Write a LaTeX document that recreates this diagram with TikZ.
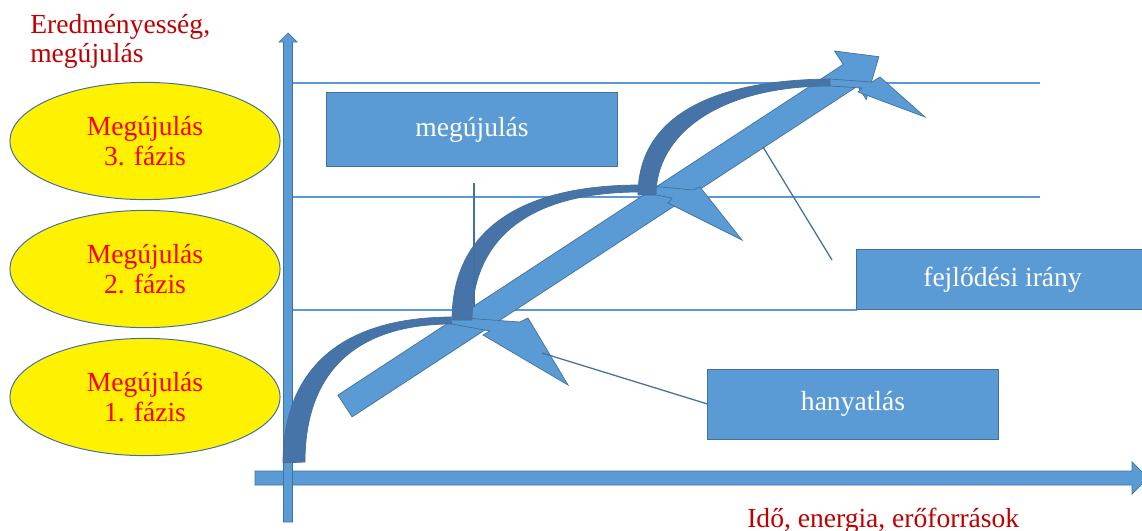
\documentclass[tikz,border=0pt]{standalone}
\usepackage{fontspec}
\setmainfont{Liberation Serif}
\usetikzlibrary{shapes.geometric}
\definecolor{axisblue}{RGB}{91,155,213}
\definecolor{edgeblue}{RGB}{65,113,156}
\definecolor{bandblue}{RGB}{70,116,168}
\definecolor{darkred}{RGB}{192,0,0}
\tikzset{
  txt/.style={font=\fontsize{19.6}{21}\selectfont},
  bluebox/.style={txt, draw=edgeblue, line width=0.7pt, fill=axisblue, text=white},
  phase/.style={txt, ellipse, draw=edgeblue, line width=0.7pt, fill=yellow, text=red,
    align=center, inner sep=0pt, minimum width=6.75cm, minimum height=2.93cm},
  blockarrow/.style={fill=axisblue, draw=edgeblue, line width=0.5pt},
  band/.style={fill=bandblue, draw=edgeblue, line width=0.5pt},
  callout/.style={draw=edgeblue, line width=0.9pt},
  level/.style={draw=axisblue, line width=1.3pt}
}
\begin{document}
\begin{tikzpicture}[x=0.025cm, y=-0.025cm]
  \useasboundingbox (0,0) rectangle (1142,531);
  \node[txt, text=darkred, align=left, anchor=north west, inner sep=0pt] (ytitle) at (30,14) {Eredményesség,\\megújulás};
  \foreach \n/\y in {3/141, 2/269, 1/397}
    \node[phase] (ph\n) at (145,\y) {Megújulás\\\n. fázis};
  \foreach \y/\e in {83/1040, 197/1040, 310/857}
    \draw[level] (292,\y) -- (\e,\y);
  \draw[blockarrow] (255,471) -- (1132,471) -- (1132,462) -- (1148,478) -- (1132,494) -- (1132,485) -- (255,485) -- cycle;
  \draw[blockarrow] (283.5,522) -- (283.5,42) -- (279,42) -- (288,33) -- (297,42) -- (292.5,42) -- (292.5,522) -- cycle;
  \node[txt, text=darkred, anchor=base west, inner sep=0pt] (xtitle) at (747,527) {Idő, energia, erőforrások};
  \begin{scope}[shift={(345,406)}, rotate=33.2]
    \draw[blockarrow] (0,-13) -- (604,-13) -- (604,-29) -- (638,0) -- (604,29) -- (604,13) -- (0,13) -- cycle;
  \end{scope}
  \draw[band] (283,463) .. controls (283,369) and (341,318) .. (450,317) -- (452,324) .. controls (356,324) and (305,372) .. (305,462) -- cycle;
  \draw[blockarrow] (450,317) -- (520,322) -- (528,318) -- (568,385) -- (483,335) -- (490,331) -- (452,324) -- cycle;
  \draw[band] (452,320) .. controls (452,232) and (518,185) .. (640,185) -- (640,192) .. controls (531,192) and (472,237) .. (472,320) -- cycle;
  \draw[blockarrow] (640,185) -- (693,190) -- (700,187) -- (742,240) -- (668,203) -- (672,198) -- (640,192) -- cycle;
  \draw[band] (638,195) .. controls (638,120) and (706,80) .. (830,79) -- (830,86) .. controls (718,86) and (656,135) .. (656,195) -- cycle;
  \draw[blockarrow] (830,79) -- (872,82) -- (880,77) -- (925,117) -- (858,92) -- (862,88) -- (830,86) -- cycle;
  \node[bluebox, minimum width=7.28cm, minimum height=1.83cm] (renew) at (472,129.5) {megújulás};
  \node[bluebox, minimum width=7.3cm, minimum height=1.5cm, anchor=south west] (dir) at (856,310) {fejlődési irány};
  \node[bluebox, minimum width=7.25cm, minimum height=1.75cm] (decline) at (853,404) {hanyatlás};
  \coordinate (renewfoot) at (474,183);
  \coordinate (renewtip) at (474,307);
  \coordinate (dirfoot) at (832,260);
  \coordinate (dirtip) at (763,147);
  \coordinate (declinetip) at (542,353);
  \draw[callout] (renewfoot) -- (renewtip);
  \draw[callout] (dirfoot) -- (dirtip);
  \draw[callout] (decline.west) -- (declinetip);
\end{tikzpicture}
\end{document}
